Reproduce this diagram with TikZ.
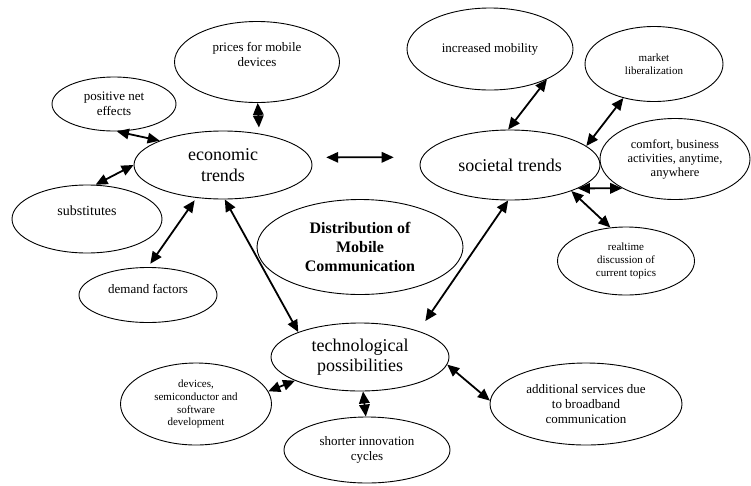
\documentclass[tikz,border=0pt]{standalone}
\usepackage{fontspec}
\setmainfont{Liberation Serif}
\usetikzlibrary{shapes.geometric,arrows.meta}

\begin{document}
\begin{tikzpicture}
	[x=1pt,y=-1pt,
	trend/.style={ellipse,draw,line width=0.9pt,inner sep=0pt,align=center,font=\fontsize{18}{20.5}\selectfont,minimum width=178pt,minimum height=68pt},
	factor/.style={ellipse,draw,line width=0.9pt,inner sep=0pt,align=center,font=\fontsize{13}{15}\selectfont},
	small/.style={factor,font=\fontsize{11}{12.8}\selectfont},
	link/.style={line width=1.8pt,{Triangle[length=12pt,width=10.5pt]}-{Triangle[length=12pt,width=10.5pt]}}]
	\useasboundingbox (0,0) rectangle (751,485);
	%% the three trends and the centre
	\node (econ) at (223,165) [trend] {economic\\trends};
	\node (soc) at (510,165) [trend,minimum width=180pt,minimum height=70pt] {societal trends};
	\node (tech) at (360,357) [trend] {technological\\possibilities};
	\node (distrib) at (360,247) [factor,font=\fontsize{16}{19.3}\selectfont\bfseries,minimum width=206pt,minimum height=95pt] {Distribution of\\Mobile\\Communication};
	%% economic side
	\node (prices) at (257,62) [factor,minimum width=165pt,minimum height=81pt] {prices for mobile\\devices\\~};
	\node (positive) at (114,104) [factor,minimum width=124pt,minimum height=54pt] {positive net\\effects};
	\node (subst) at (87,219) [factor,font=\fontsize{14}{17}\selectfont,minimum width=150pt,minimum height=68pt] {substitutes\\~};
	\node (demand) at (148,295) [factor,minimum width=138pt,minimum height=55pt] {demand factors\\[-3pt]~};
	%% societal side
	\node (mobility) at (490,49) [factor,minimum width=166pt,minimum height=82pt] {increased mobility};
	\node (market) at (654,64) [small,minimum width=138pt,minimum height=75pt] {market\\liberalization};
	\node (comfort) at (675,159) [factor,font=\fontsize{12.5}{14}\selectfont,minimum width=150pt,minimum height=81pt] {comfort, business\\activities, anytime,\\anywhere};
	\node (realtime) at (626,261) [small,minimum width=137pt,minimum height=68pt] {realtime\\discussion of\\current topics};
	%% technological side
	\node (devices) at (196,404) [small,minimum width=151pt,minimum height=82pt] {devices,\\semiconductor and\\software\\development};
	\node (shorter) at (367,450) [factor,minimum width=166pt,minimum height=66pt] {shorter innovation\\cycles};
	\node (additional) at (586,404) [factor,minimum width=192pt,minimum height=82pt] {additional services due\\to broadband\\communication};
	\draw [link,shorten >=6pt] (prices.-89) -- (econ.41);
	\draw [link] (positive.-84) -- (econ.159);
	\draw [link] (subst.76) -- (econ.180);
	\draw [link,shorten <=3pt,shorten >=4pt] (econ.-129) -- (demand.north);
	\draw [link] (econ.-87) -- (tech.158);
	\draw [link,shorten <=16pt,shorten >=28pt] (econ.5) -- (soc.175);
	\draw [link,shorten >=12pt] (soc.-93) -- (tech.24);
	\draw [link] (soc.93) -- (mobility.-28);
	\draw [link] (soc.14) -- (market.-132);
	\draw [link] (soc.-19) -- (comfort.-151);
	\draw [link] (soc.-23) -- (realtime.115);
	\draw [link] (tech.-160) -- (devices.10);
	\draw [link] (tech.-85) -- (shorter.92);
	\draw [link] (tech.-5) -- (additional.178);
\end{tikzpicture}
\end{document}
